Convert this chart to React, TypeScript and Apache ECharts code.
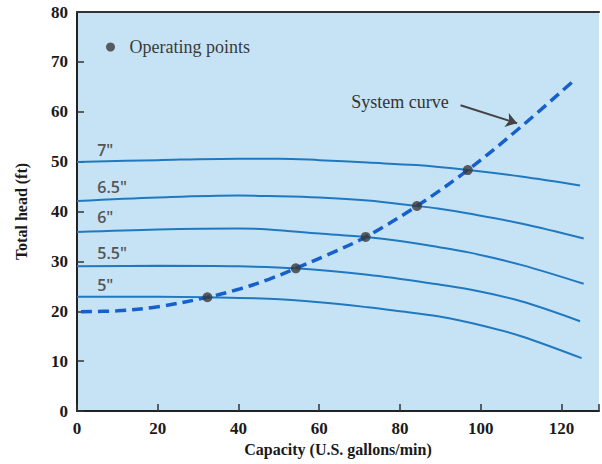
import React, { useEffect, useRef } from "react";
import * as echarts from "echarts";

// Pump head curves (capacity in U.S. gal/min, head in ft) for each impeller diameter
const impellerLabels = ['5"', '5.5"', '6"', '6.5"', '7"'];
const pump5 = [[0, 22.9], [20, 22.9], [32.3, 22.8], [47.5, 22.5], [60, 21.8], [72, 20.8], [80, 20.0], [89.4, 19.0], [100, 17.2], [110, 15.0], [125, 10.6]];
const pump55 = [[0, 29.0], [20, 29.1], [40, 29.0], [54.2, 28.6], [72, 27.3], [89.4, 25.4], [97, 24.4], [110, 22.0], [124.6, 18.0]];
const pump6 = [[0, 35.9], [20, 36.4], [40, 36.6], [47.5, 36.4], [60, 35.6], [71.5, 34.9], [80, 34.1], [89.4, 32.9], [97, 31.8], [110, 29.3], [125.5, 25.5]];
const pump65 = [[0, 42.1], [20, 42.8], [40, 43.2], [47.5, 43.1], [60, 42.8], [72, 42.2], [84.2, 41.1], [89.4, 40.6], [97, 39.6], [110, 37.6], [125.5, 34.6]];
const pump7 = [[0, 49.9], [20, 50.3], [40, 50.6], [50, 50.6], [60, 50.3], [72, 49.8], [84, 49.3], [96.8, 48.3], [110, 47.0], [124.6, 45.2]];

// System curve and its intersections with the pump curves
const systemCurve = [[1, 19.9], [10, 20.1], [20, 20.9], [32.3, 22.8], [40, 24.4], [47.5, 26.4], [54.2, 28.6], [62, 31.3], [71.5, 34.9], [84.2, 41.1], [96.8, 48.3], [110, 57.0], [123.4, 66.5]];
const operatingPoints = [[32.3, 22.8], [54.2, 28.6], [71.5, 34.9], [84.2, 41.1], [96.8, 48.3]];

const xTicks = [0, 20, 40, 60, 80, 100, 120];

const pumpSeries = [pump5, pump55, pump6, pump65, pump7];
// where each diameter label sits (data coordinates)
const labelAnchors = [[7.0, 25.3], [8.7, 31.7], [7.0, 38.9], [8.7, 44.9], [7.0, 52.3]];

const SERIF = "'Liberation Serif', 'Times New Roman', serif";
const SANS = "'Open Sans', 'DejaVu Sans', sans-serif";

export default function App() {
  const ref = useRef<HTMLDivElement>(null);

  useEffect(() => {
    if (!ref.current) return;
    const chart = echarts.init(ref.current, undefined, { renderer: "svg" });

    const pumps = pumpSeries.map((d, i) => ({
      type: "line",
      name: impellerLabels[i],
      data: d,
      smooth: 0.35,
      showSymbol: false,
      symbol: "none",
      lineStyle: { color: "#2079c0", width: 2 },
      z: 2,
      markPoint: {
        silent: true,
        symbol: "circle",
        symbolSize: 0,
        data: [{ coord: labelAnchors[i], name: impellerLabels[i] }],
        label: {
          show: true,
          position: "inside",
          formatter: impellerLabels[i],
          color: "#555",
          fontFamily: SANS,
          fontWeight: 600,
          fontSize: 16,
        },
      },
    }));

    chart.setOption({
      animation: false,
      backgroundColor: "#ffffff",
      grid: {
        left: 77,
        top: 12,
        right: 0,
        bottom: 53,
        show: true,
        backgroundColor: "#c6e3f6",
        borderWidth: 0,
      },
      legend: {
        data: ["Operating points"],
        left: 101,
        top: 33,
        icon: "circle",
        itemWidth: 28,
        itemHeight: 9,
        textStyle: { fontFamily: SERIF, fontSize: 18, color: "#3a3a3a" },
        selectedMode: false,
      },
      xAxis: [
        {
          type: "value",
          min: 0,
          max: 129.3,
          interval: 20,
          name: "Capacity (U.S. gallons/min)",
          nameLocation: "middle",
          nameGap: 30,
          nameTextStyle: { fontFamily: SERIF, fontWeight: "bold", fontSize: 16, color: "#1a1a1a" },
          axisLine: { show: true, lineStyle: { color: "#222", width: 2 } },
          axisTick: { show: true, inside: true, length: 7, lineStyle: { color: "#333", width: 1.5 } },
          axisLabel: {
            margin: 9,
            fontFamily: SERIF,
            fontWeight: "bold",
            fontSize: 17,
            color: "#1a1a1a",
            formatter: (v: number) => (xTicks.includes(v) ? String(v) : ""),
          },
          splitLine: { show: false },
        },
        {
          type: "value",
          position: "top",
          min: 0,
          max: 129.3,
          axisLine: { show: true, lineStyle: { color: "#333", width: 2 } },
          axisTick: { show: false },
          axisLabel: { show: false },
          splitLine: { show: false },
        },
      ],
      yAxis: {
        type: "value",
        min: 0,
        max: 80,
        interval: 10,
        name: "Total head (ft)",
        nameLocation: "middle",
        nameGap: 48,
        nameTextStyle: { fontFamily: SERIF, fontWeight: "bold", fontSize: 16, color: "#1a1a1a" },
        axisLine: { show: true, lineStyle: { color: "#222", width: 2 } },
        axisTick: { show: true, inside: true, length: 7, lineStyle: { color: "#333", width: 1.5 } },
        axisLabel: { margin: 9, fontFamily: SERIF, fontWeight: "bold", fontSize: 17, color: "#1a1a1a" },
        splitLine: { show: false },
      },
      series: [
        ...pumps,
        {
          type: "line",
          name: "System curve",
          data: systemCurve,
          smooth: 0.35,
          showSymbol: false,
          symbol: "none",
          lineStyle: { color: "#1660cc", width: 3.5, type: [11, 6] },
          z: 3,
          markLine: {
            silent: true,
            symbol: ["none", "arrow"],
            symbolSize: 11,
            lineStyle: { color: "#444", width: 2, type: "solid" },
            label: { show: false },
            data: [[{ coord: [95, 61.3] }, { coord: [109, 57.7] }]],
          },
          markPoint: {
            silent: true,
            symbol: "circle",
            symbolSize: 0,
            data: [{ coord: [80, 61.9], name: "System curve" }],
            label: {
              show: true,
              position: "inside",
              formatter: "System curve",
              fontFamily: SERIF,
              fontSize: 18,
              color: "#333",
            },
          },
        },
        {
          type: "scatter",
          name: "Operating points",
          data: operatingPoints,
          symbol: "circle",
          symbolSize: 10,
          itemStyle: { color: "#383838" },
          z: 5,
        },
      ],
    });

    return () => chart.dispose();
  }, []);

  return (
    <div
      ref={ref}
      style={{ position: "fixed", left: 0, top: 0, width: 602, height: 464 }}
    />
  );
}
